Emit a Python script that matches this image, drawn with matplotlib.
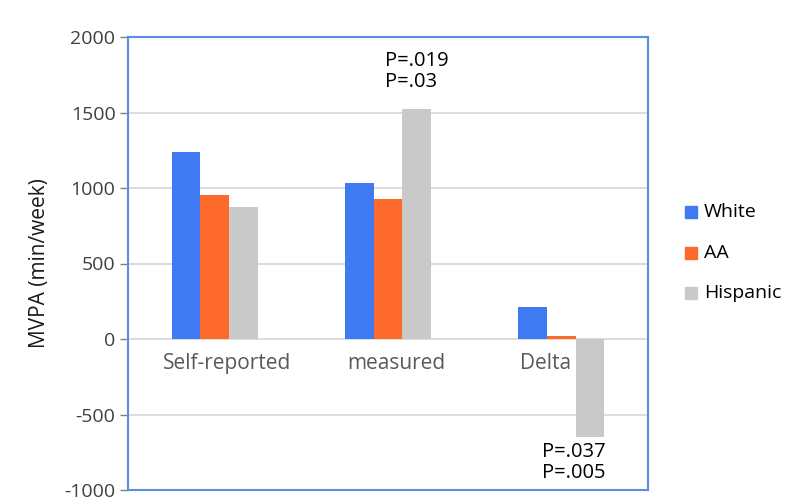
import numpy as np
import matplotlib
matplotlib.use("Agg")
import matplotlib.pyplot as plt
from matplotlib.patches import Rectangle

plt.rcParams['font.family'] = ['Open Sans', 'DejaVu Sans']
plt.rcParams['axes.unicode_minus'] = False

# Data
categories = ["Self-reported", "measured", "Delta"]
groups = ["White", "AA", "Hispanic"]
white = [1240, 1030, 210]
aa = [953, 927, 22]
hispanic = [876, 1523, -647]
colors = ["#3f7af3", "#fd6a2b", "#c9c9c9"]
p_measured = ["P=.019", "P=.03"]
p_delta = ["P=.037", "P=.005"]

fig = plt.figure(figsize=(8.03, 5.04), dpi=100)
ax = fig.add_axes([128 / 803, 14 / 504, 520 / 803, 453 / 504])

x = np.arange(len(categories))
w = 0.165
for i, (vals, col) in enumerate(zip([white, aa, hispanic], colors)):
    ax.bar(x + (i - 1) * w, vals, w, color=col, zorder=3)

ax.set_xlim(-0.5, 2.5)
ax.set_ylim(-1000, 2000)
ax.set_yticks(np.arange(-1000, 2001, 500))
ax.yaxis.grid(True, color="#d9d9d9", linewidth=1.3, zorder=0)
ax.set_xticks([])
ax.tick_params(axis='y', labelsize=14, labelcolor="#404040", color="#7f7f7f",
               length=6, width=1, pad=3)

for s in ax.spines.values():
    s.set_color("#5b8de3")
    s.set_linewidth(1.5)

# category labels just below zero line (slightly nudged like the original)
label_shift = [0.07, 0.05, -0.09]
for xi, name, dx in zip(x, categories, label_shift):
    ax.text(xi + dx, -159, name, ha='center', va='center', fontsize=15, color="#595959", zorder=4)

ax.set_ylabel("MVPA (min/week)", fontsize=15, color="#1a1a1a", labelpad=10)

# p-value annotations
for txt, yv in zip(p_measured, [1841, 1702]):
    ax.text(0.985, yv, txt, ha='left', va='center', fontsize=14.5)
for txt, yv in zip(p_delta, [-748, -887]):
    ax.text(1.889, yv, txt, ha='left', va='center', fontsize=14.5)

# legend on the right
for k, (g, c) in enumerate(zip(groups, colors)):
    yc = 1 - (212 + 40.5 * k) / 504
    fig.patches.append(Rectangle((685 / 803, yc - 6 / 504), 12 / 803, 12 / 504,
                                 transform=fig.transFigure, color=c, figure=fig))
    fig.text(704 / 803, yc, g, ha='left', va='center', fontsize=14)

fig.savefig("out.png", dpi=100)
